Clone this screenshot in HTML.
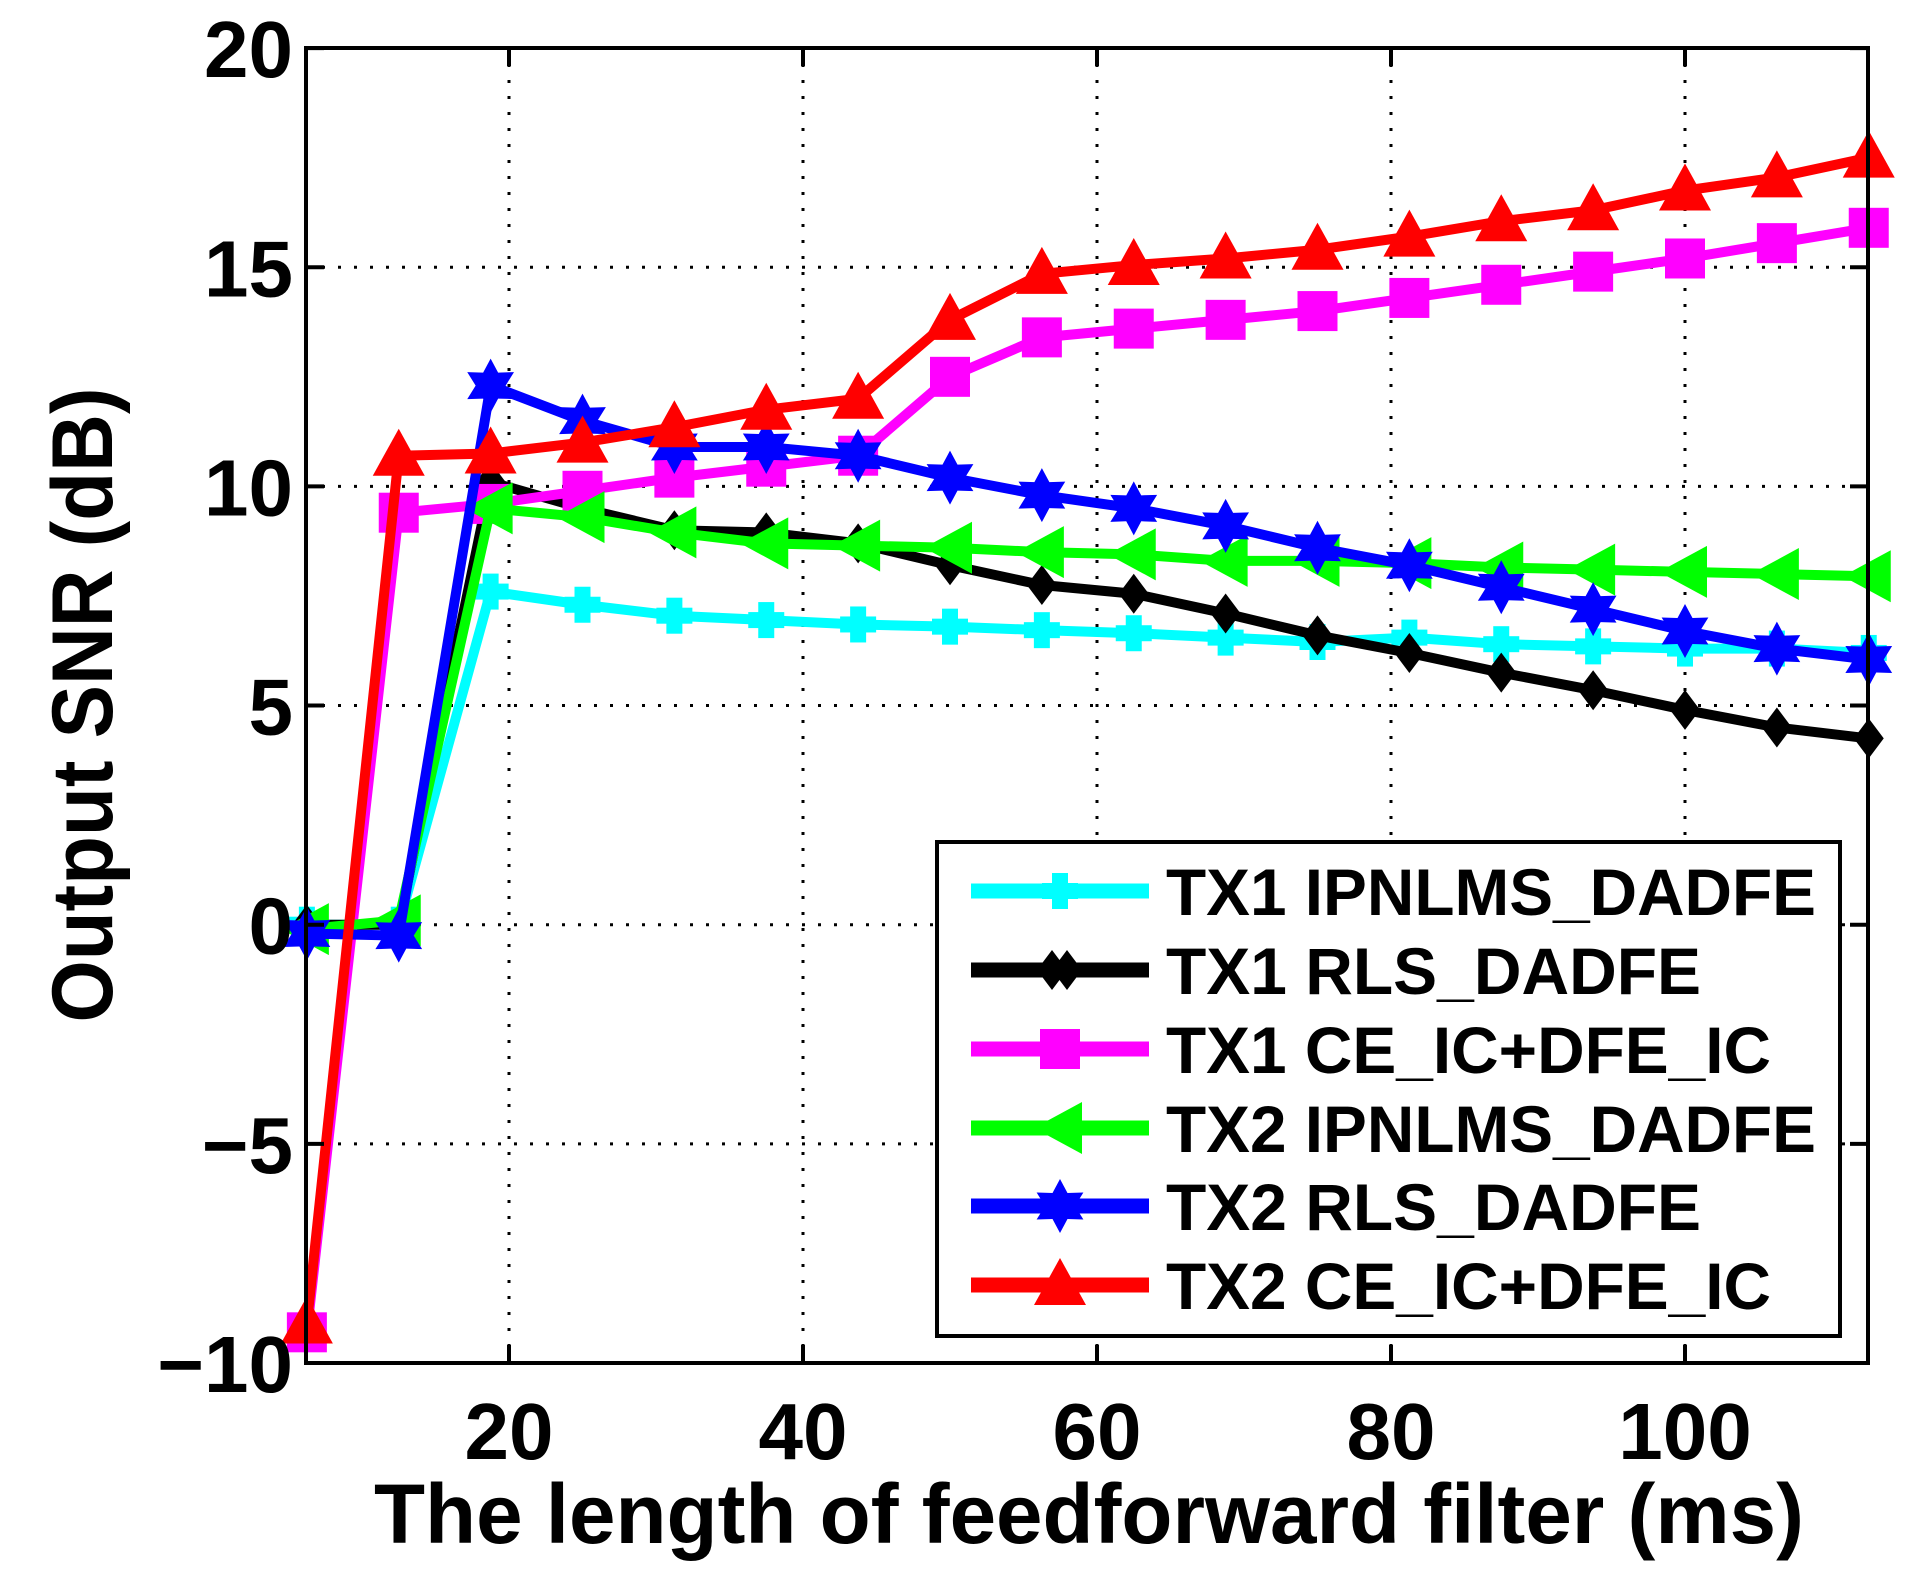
<!DOCTYPE html>
<html><head><meta charset="utf-8"><style>
html,body{margin:0;padding:0;background:#fff;}
svg{display:block;font-family:"Liberation Sans",sans-serif;font-weight:bold;}
</style></head><body>
<svg id="s" width="1932" height="1575" xmlns="http://www.w3.org/2000/svg">
<rect width="1932" height="1575" fill="#fff"/>
<g id="grid" stroke="#000" stroke-width="3" stroke-dasharray="3,13"></g>
<g id="series"></g>
<rect x="306" y="48" width="1562" height="1315" fill="none" stroke="#000" stroke-width="4"/>
<g id="ticks" font-size="80" fill="#000"></g>
<text x="1089" y="1543" font-size="84" text-anchor="middle" textLength="1430" lengthAdjust="spacingAndGlyphs">The length of feedforward filter (ms)</text>
<text transform="translate(112,705) rotate(-90)" font-size="86" text-anchor="middle" textLength="635" lengthAdjust="spacingAndGlyphs">Output SNR (dB)</text>
<rect x="937" y="842" width="903" height="494" fill="#fff" stroke="#000" stroke-width="4"/>
<g id="legend" font-size="66"></g>
</svg>
<script>
var NS="http://www.w3.org/2000/svg";
function X(v){return 509+(v-20)*14.7;}
function Y(v){return 1363-(v+10)*43.83;}
function el(p,t,a,txt){var e=document.createElementNS(NS,t);for(var k in a)e.setAttribute(k,a[k]);if(txt!=null)e.textContent=txt;p.appendChild(e);return e;}
var g=document.getElementById('grid'),tk=document.getElementById('ticks');
[20,40,60,80,100].forEach(function(v){var x=X(v);el(g,'line',{x1:x,x2:x,y1:48,y2:1363});
 el(tk,'line',{x1:x,x2:x,y1:1363,y2:1345,stroke:'#000','stroke-width':4});el(tk,'line',{x1:x,x2:x,y1:48,y2:66,stroke:'#000','stroke-width':4});
 el(tk,'text',{x:x,y:1459,'text-anchor':'middle'},String(v));});
[-10,-5,0,5,10,15,20].forEach(function(v){var y=Y(v);if(v>-10&&v<20)el(g,'line',{x1:306,x2:1868,y1:y,y2:y});
 el(tk,'line',{x1:306,x2:324,y1:y,y2:y,stroke:'#000','stroke-width':4});el(tk,'line',{x1:1850,x2:1868,y1:y,y2:y,stroke:'#000','stroke-width':4});
 el(tk,'text',{x:293,y:y+29,'text-anchor':'end'},(v<0?'\u2212':'')+Math.abs(v));});
var xs=[];for(var i=1;i<=18;i++)xs.push(6.25*i);
var S=[
 {c:'#00ffff',m:'plus',name:'TX1 IPNLMS_DADFE',d:[0,0,7.6,7.3,7.05,6.95,6.85,6.8,6.72,6.65,6.55,6.45,6.55,6.4,6.35,6.3,6.3,6.2]},
 {c:'#000000',m:'diamond',name:'TX1 RLS_DADFE',d:[0,0,10.1,9.5,9.0,8.95,8.7,8.2,7.75,7.55,7.1,6.6,6.2,5.75,5.35,4.9,4.5,4.25]},
 {c:'#ff00ff',m:'square',name:'TX1 CE_IC+DFE_IC',d:[-9.3,9.4,9.6,9.9,10.2,10.45,10.7,12.5,13.4,13.6,13.8,14.0,14.3,14.6,14.9,15.2,15.55,15.9]},
 {c:'#00ff00',m:'left',name:'TX2 IPNLMS_DADFE',d:[-0.1,0.1,9.5,9.3,8.95,8.7,8.65,8.6,8.5,8.45,8.3,8.3,8.25,8.15,8.1,8.05,8.0,7.95]},
 {c:'#0000ff',m:'star',name:'TX2 RLS_DADFE',d:[-0.2,-0.25,12.3,11.5,10.9,10.9,10.7,10.2,9.8,9.5,9.1,8.6,8.2,7.7,7.2,6.7,6.3,6.05]},
 {c:'#ff0000',m:'up',name:'TX2 CE_IC+DFE_IC',d:[-9.1,10.7,10.75,11.0,11.35,11.75,12.0,13.8,14.85,15.05,15.2,15.4,15.7,16.05,16.3,16.75,17.05,17.5]}
];
function marker(p,m,x,y,c){
 if(m=='plus'){el(p,'rect',{x:x-8,y:y-18,width:16,height:36,fill:c});el(p,'rect',{x:x-18,y:y-8,width:36,height:16,fill:c});}
 else if(m=='diamond'){el(p,'polygon',{points:[x,y-20,x+15,y,x,y+20,x-15,y].join(','),fill:c});}
 else if(m=='square'){el(p,'rect',{x:x-20,y:y-20,width:40,height:40,fill:c});}
 else if(m=='left'){el(p,'polygon',{points:[x-26,y,x+22,y-26,x+22,y+26].join(','),fill:c});}
 else if(m=='up'){el(p,'polygon',{points:[x,y-27,x+26,y+20,x-26,y+20].join(','),fill:c});}
 else if(m=='star'){var pts=[];for(var k=0;k<12;k++){var r=(k%2==0)?27:15,a=Math.PI/2+k*Math.PI/6;pts.push(x+r*Math.cos(a),y-r*Math.sin(a));}el(p,'polygon',{points:pts.join(','),fill:c});}
}
var sg=document.getElementById('series'),lg=document.getElementById('legend');
var ly=[891,970,1049,1128,1206,1285];
S.forEach(function(s,i){
 var pts=s.d.map(function(v,j){return X(xs[j])+','+Y(v);}).join(' ');
 el(sg,'polyline',{points:pts,fill:'none',stroke:s.c,'stroke-width':10,'stroke-linejoin':'round'});
 s.d.forEach(function(v,j){marker(sg,s.m,X(xs[j]),Y(v),s.c);});
 el(lg,'line',{x1:971,x2:1149,y1:ly[i],y2:ly[i],stroke:s.c,'stroke-width':15});
 if(s.m=='diamond'){marker(lg,s.m,1052,ly[i],s.c);marker(lg,s.m,1067,ly[i],s.c);}else marker(lg,s.m,1060,ly[i],s.c);
 var w=[650,535,605,650,535,605][i];
 el(lg,'text',{x:1166,y:ly[i]+24,fill:'#000',textLength:w,lengthAdjust:'spacingAndGlyphs'},s.name);
});
</script>
</body></html>
